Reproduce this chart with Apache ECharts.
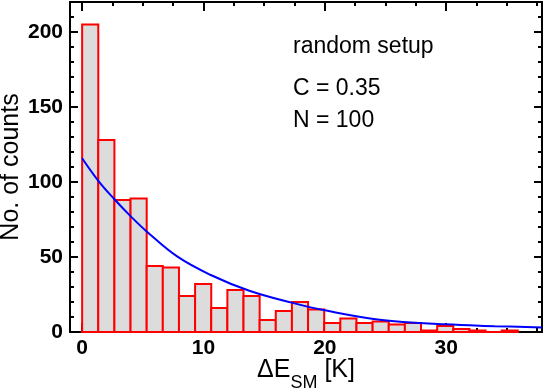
<!DOCTYPE html>
<html>
<head>
<meta charset="utf-8">
<script src="https://cdn.jsdelivr.net/npm/echarts@6/dist/echarts.min.js"></script>
<style>
  html, body { margin: 0; padding: 0; background: #fff; }
  #chart { width: 545px; height: 392px; }
</style>
</head>
<body>
<div id="chart"></div>
<script>
// histogram: bins start at 0, fixed width
const BIN_WIDTH = 1.33;
const binCounts = [205, 128, 88, 89, 44, 43, 24, 32, 16, 28, 24, 8, 14, 20, 15, 6, 9, 6, 7, 5, 6, 1, 4, 2, 1, 0, 1];

// blue fit curve
const fitX = [0, 1.35, 2.66, 4.03, 5.34, 7.86, 10.6, 13.78, 17.34, 19.9, 24.7, 29.9, 34, 37.9];
const fitY = [115.8, 100.6, 88.5, 76.9, 66.9, 50.2, 38, 27.5, 19.4, 14.6, 8.0, 5.1, 3.9, 3.0];

// tick labels / tick positions
const xMajor = [0, 10, 20, 30];
const xMinor = [2.5, 5, 7.5, 12.5, 15, 17.5, 22.5, 25, 27.5, 32.5, 35, 37.5];
const yMajor = [0, 50, 100, 150, 200];
const yMinor = [10, 20, 30, 40, 60, 70, 80, 90, 110, 120, 130, 140, 160, 170, 180, 190, 210];

const notes = ["random setup", "C = 0.35", "N = 100"];

const FONT = "Liberation Sans, Arial, Helvetica, sans-serif";
const X_MIN = -1, X_MAX = 37.9, Y_MIN = 0, Y_MAX = 220;

function xAx(position, ticks, len, withLine, withLabels) {
  return {
    type: "value", position, min: X_MIN, max: X_MAX,
    axisLine: { show: withLine, onZero: false, lineStyle: { color: "#000", width: 2 } },
    axisTick: { show: true, inside: true, length: len, customValues: ticks, lineStyle: { color: "#000", width: 2 } },
    axisLabel: withLabels
      ? { show: true, customValues: ticks, margin: 6, color: "#000", fontSize: 21, fontWeight: "bold", fontFamily: FONT }
      : { show: false },
    splitLine: { show: false }
  };
}
function yAx(position, ticks, len, withLine, withLabels) {
  return {
    type: "value", position, min: Y_MIN, max: Y_MAX,
    axisLine: { show: withLine, onZero: false, lineStyle: { color: "#000", width: 2 } },
    axisTick: { show: true, inside: true, length: len, customValues: ticks, lineStyle: { color: "#000", width: 2 } },
    axisLabel: withLabels
      ? { show: true, customValues: ticks, margin: 7, color: "#000", fontSize: 21, fontWeight: "bold", fontFamily: FONT }
      : { show: false },
    splitLine: { show: false }
  };
}

const xAxes = [
  xAx("bottom", xMajor, 9, true, true),
  xAx("bottom", xMinor, 4, false, false),
  xAx("top", xMajor, 9, true, false),
  xAx("top", xMinor, 4, false, false)
];
xAxes[0].name = "{a|ΔE}{s|SM}{a| [K]}";
xAxes[0].nameLocation = "middle";
xAxes[0].nameGap = 26;
xAxes[0].nameMoveOverlap = false;
xAxes[0].nameTextStyle = {
  color: "#000", fontFamily: FONT,
  rich: {
    a: { fontSize: 25, lineHeight: 26, verticalAlign: "top", fontFamily: FONT, color: "#000" },
    s: { fontSize: 18, lineHeight: 18, verticalAlign: "top", padding: [16, 0, 0, 0], fontFamily: FONT, color: "#000" }
  }
};

const yAxes = [
  yAx("left", yMajor, 8, true, true),
  yAx("left", yMinor, 4, false, false),
  yAx("right", yMajor, 8, true, false),
  yAx("right", yMinor, 4, false, false)
];
yAxes[0].name = "No. of counts";
yAxes[0].nameLocation = "middle";
yAxes[0].nameGap = 46;
yAxes[0].nameMoveOverlap = false;
yAxes[0].nameTextStyle = { color: "#000", fontSize: 25, fontFamily: FONT };

const histData = binCounts.map((c, i) => [i * BIN_WIDTH, (i + 1) * BIN_WIDTH, c]);
const fitData = fitX.map((x, i) => [x, fitY[i]]);

const noteY = [48.5, 90, 122.5];

const chart = echarts.init(document.getElementById("chart"), null, { renderer: "canvas" });
chart.setOption({
  animation: false,
  grid: { left: 70, right: 3, top: 2, bottom: 60, containLabel: false, outerBoundsMode: "none" },
  xAxis: xAxes,
  yAxis: yAxes,
  series: [
    {
      type: "custom",
      xAxisIndex: 0, yAxisIndex: 0,
      data: histData,
      encode: { x: [0, 1], y: 2 },
      renderItem: (params, api) => {
        const p0 = api.coord([api.value(0), 0]);
        const p1 = api.coord([api.value(1), api.value(2)]);
        return {
          type: "rect",
          shape: { x: p0[0], y: p1[1], width: p1[0] - p0[0], height: p0[1] - p1[1] },
          style: { fill: "#dcdcdc", stroke: "#ff0000", lineWidth: 2 }
        };
      },
      z: 1
    },
    {
      type: "line",
      xAxisIndex: 0, yAxisIndex: 0,
      data: fitData,
      smooth: 0.4,
      showSymbol: false,
      lineStyle: { color: "#0000ff", width: 2 },
      z: 3
    }
  ],
  graphic: notes.map((t, i) => ({
    type: "text",
    left: 293,
    top: noteY[i] - 13,
    style: { text: t, fontSize: 23, fontFamily: FONT, fill: "#000" }
  }))
});
</script>
</body>
</html>
